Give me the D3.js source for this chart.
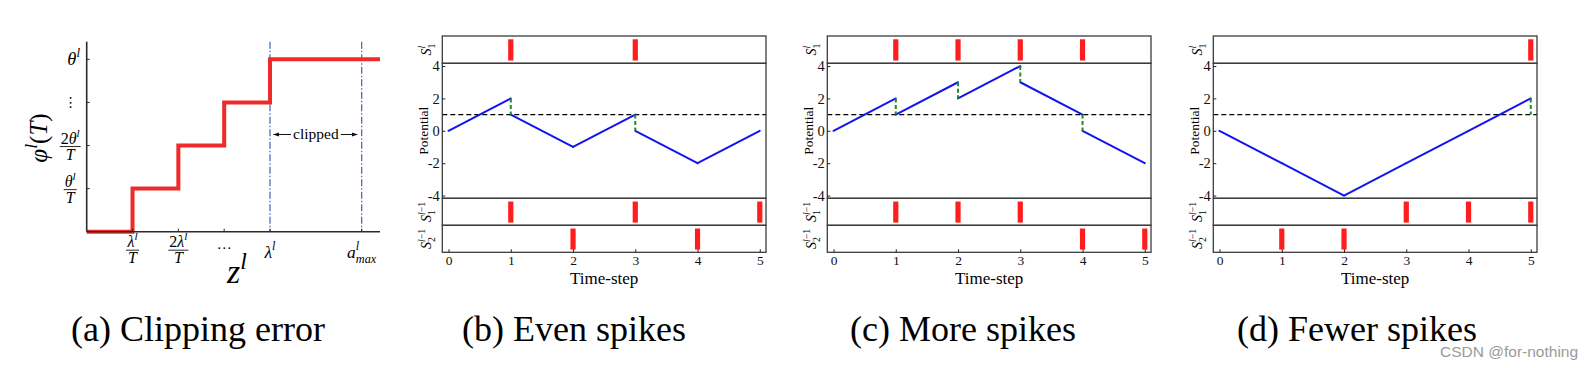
<!DOCTYPE html>
<html><head><meta charset="utf-8">
<script src="https://cdn.jsdelivr.net/npm/d3@7"></script>
<style>
html,body{margin:0;padding:0;background:#fff;}
svg{display:block;}
svg text{font-family:"Liberation Serif","Times New Roman",Times,serif;}
svg text.wm{font-family:"Liberation Sans",Arial,sans-serif;}
svg text.sym{font-family:"DejaVu Sans",sans-serif;}
</style>
</head><body>
<svg id="chart" width="1596" height="368"></svg>
<script>
// ================= DATA =================
// Panel (a): clipping error staircase (z in units of λ/T, level in units of θ/T)
const clipStepZ     = [0, 1, 2, 3, 4, 6.4];
const clipStepLevel = [0, 1, 2, 3, 4, 4];
const clipXTickValues = [1, 2, 3, 4, 6];
const clipXTickLabels = ["λ^l/T", "2λ^l/T", "···", "λ^l", "a^l_{max}"];
const clipYTickValues = [1, 2, 3, 4];
const clipYTickLabels = ["θ^l/T", "2θ^l/T", "⋮", "θ^l"];
const clipMarkers = [4, 6];            // λ^l and a^l_max
const clipNote = "clipped";

// Panels (b)-(d): membrane potential simulation
const timeSteps = [0, 1, 2, 3, 4, 5];
const potentialTicks = [4, 2, 0, -2, -4];
const threshold = 1;

const evenMembrane   = [0, 2, -1, 1, -2, 0];   // potential at each step (before reset)
const evenOutSpikes  = [1, 3];
const evenIn1Spikes  = [1, 3, 5];
const evenIn2Spikes  = [2, 4];

const moreMembrane   = [0, 2, 3, 4, 1, -2];
const moreOutSpikes  = [1, 2, 3, 4];
const moreIn1Spikes  = [1, 2, 3];
const moreIn2Spikes  = [4, 5];

const fewerMembrane  = [0, -2, -4, -2, 0, 2];
const fewerOutSpikes = [5];
const fewerIn1Spikes = [3, 4, 5];
const fewerIn2Spikes = [1, 2];

const rowLabels = ["S_1^l", "Potential", "S_1^{l−1}", "S_2^{l−1}"];
const xAxisTitle = "Time-step";
const captions = ["(a) Clipping error", "(b) Even spikes", "(c) More spikes", "(d) Fewer spikes"];
const watermark = "CSDN @for-nothing";

// ================= HELPERS =================
const svg = d3.select("#chart");
svg.append("rect").attr("width", 1596).attr("height", 368).attr("fill", "#fff");

const isLetter = ch => /[A-Za-zα-ωθλφ]/.test(ch);

function renderMath(text, str, fs) {
  let i = 0; const atoms = [];
  const readGroup = () => {
    if (str[i] === "{") { const j = str.indexOf("}", i); const g = str.slice(i + 1, j); i = j + 1; return g; }
    return str[i++];
  };
  while (i < str.length) {
    const c = str[i];
    if (c === "^") { i++; atoms[atoms.length - 1].sup = readGroup(); }
    else if (c === "_") { i++; atoms[atoms.length - 1].sub = readGroup(); }
    else { atoms.push({ b: c }); i++; }
  }
  let shift = 0;
  const sfs = fs * 0.7;
  const writeScript = (s, off, dx) => {
    const ts = text.append("tspan").attr("font-size", sfs).attr("dy", off - shift);
    if (dx) ts.attr("dx", dx);
    shift = off;
    [...s].forEach(ch => ts.append("tspan").attr("font-style", isLetter(ch) ? "italic" : "normal").text(ch));
    return ts;
  };
  atoms.forEach(a => {
    const t = text.append("tspan").attr("font-style", isLetter(a.b) ? "italic" : "normal")
      .attr("font-size", fs).text(a.b);
    if (shift !== 0) { t.attr("dy", -shift); shift = 0; }
    const subOff = fs * 0.28, supOff = -fs * 0.42;
    if (a.sub && a.sup) {
      const first = a.sub.length <= a.sup.length ? ["sub", a.sub] : ["sup", a.sup];
      const second = first[0] === "sub" ? ["sup", a.sup] : ["sub", a.sub];
      const t1 = writeScript(first[1], first[0] === "sub" ? subOff : supOff);
      const w = t1.node().getComputedTextLength();
      writeScript(second[1], second[0] === "sub" ? subOff : supOff, -w);
    } else if (a.sup) writeScript(a.sup, supOff);
    else if (a.sub) writeScript(a.sub, subOff);
  });
  return text;
}

function fraction(g, cx, cy, num, den, fs) {
  const tn = g.append("text").attr("x", cx).attr("y", cy - 3).attr("text-anchor", "middle");
  renderMath(tn, num, fs);
  const td = g.append("text").attr("x", cx).attr("y", cy + fs * 0.72 + 1.5).attr("text-anchor", "middle");
  renderMath(td, den, fs);
  const w = Math.max(tn.node().getBBox().width, td.node().getBBox().width);
  g.append("line").attr("x1", cx - w / 2 - 1).attr("x2", cx + w / 2 + 1)
    .attr("y1", cy).attr("y2", cy).attr("stroke", "#111").attr("stroke-width", 0.9);
}

function mathLabel(g, x, y, str, fs, anchor) {
  if (str.includes("/")) {
    const [n, d] = str.split("/");
    fraction(g, x, y, n, d, fs);
  } else {
    const t = g.append("text").attr("x", x).attr("y", y).attr("text-anchor", anchor || "middle");
    renderMath(t, str, fs);
  }
}

// arrow marker
const defs = svg.append("defs");
defs.append("marker").attr("id", "arrow").attr("viewBox", "0 0 10 10").attr("refX", 9).attr("refY", 5)
  .attr("markerWidth", 6).attr("markerHeight", 6).attr("orient", "auto-start-reverse")
  .append("path").attr("d", "M0,1.5 L10,5 L0,8.5 z").attr("fill", "#111");

// ================= PANEL (a) =================
{
  const g = svg.append("g");
  const xA = d3.scaleLinear().domain([0, 6.4]).range([86.7, 380]);
  const yA = d3.scaleLinear().domain([0, 4.41]).range([231.7, 41.7]);

  // clipping markers
  g.selectAll("line.clip").data(clipMarkers).join("line")
    .attr("x1", d => xA(d)).attr("x2", d => xA(d))
    .attr("y1", yA(4.41)).attr("y2", yA(0))
    .attr("stroke", "#4a70b8").attr("stroke-width", 1.3).attr("stroke-dasharray", "7,2,1.5,2");

  // staircase
  const pts = clipStepZ.map((z, i) => [z, clipStepLevel[i]]);
  g.append("path").datum(pts)
    .attr("d", d3.line().x(d => xA(d[0])).y(d => yA(d[1])).curve(d3.curveStepAfter))
    .attr("fill", "none").attr("stroke", "#f02a2a").attr("stroke-width", 4);

  // axes
  g.append("line").attr("x1", xA(0)).attr("x2", xA(0)).attr("y1", yA(4.41)).attr("y2", yA(0))
    .attr("stroke", "#2a2a2a").attr("stroke-width", 1.6);
  g.append("line").attr("x1", xA(0)).attr("x2", xA(6.4)).attr("y1", yA(0)).attr("y2", yA(0))
    .attr("stroke", "#2a2a2a").attr("stroke-width", 1.6);
  g.selectAll("line.yt").data(clipYTickValues).join("line")
    .attr("x1", xA(0)).attr("x2", xA(0) + 3).attr("y1", d => yA(d)).attr("y2", d => yA(d))
    .attr("stroke", "#2a2a2a").attr("stroke-width", 1);
  g.selectAll("line.xt").data(clipXTickValues).join("line")
    .attr("x1", d => xA(d)).attr("x2", d => xA(d)).attr("y1", yA(0)).attr("y2", yA(0) - 3)
    .attr("stroke", "#2a2a2a").attr("stroke-width", 1);

  // y tick labels
  clipYTickValues.forEach((v, i) => {
    const lab = clipYTickLabels[i];
    if (lab === "⋮") {
      g.append("text").attr("class", "sym").attr("x", xA(0) - 16).attr("y", yA(v) + 5).attr("text-anchor", "middle")
        .attr("font-size", 14).text(lab);
    } else if (lab.includes("/")) {
      mathLabel(g, xA(0) - 16.5, yA(v) + 1, lab, 16);
    } else {
      mathLabel(g, xA(0) - 13, yA(v) + 5.5, lab, 18.5);
    }
  });
  // x tick labels
  clipXTickValues.forEach((v, i) => {
    const lab = clipXTickLabels[i];
    if (lab.includes("/")) mathLabel(g, xA(v), yA(0) + 18.5, lab, 16);
    else if (lab === "···") g.append("text").attr("x", xA(v)).attr("y", yA(0) + 21).attr("text-anchor", "middle")
      .attr("font-size", 15).text(lab);
    else mathLabel(g, xA(v), yA(0) + 26, lab, 17.5);
  });

  // axis titles
  const yt = g.append("text").attr("text-anchor", "middle")
    .attr("transform", `translate(47,138) rotate(-90)`);
  renderMath(yt, "φ^l(T)", 25);
  const xt = g.append("text").attr("x", 237).attr("y", 283).attr("text-anchor", "middle");
  renderMath(xt, "z^l", 34);

  // clipped annotation
  const ct = g.append("text").attr("x", xA(5)).attr("y", 139).attr("text-anchor", "middle")
    .attr("font-size", 15.5).text(clipNote);
  const bb = ct.node().getBBox();
  g.append("line").attr("x1", bb.x - 2).attr("x2", xA(clipMarkers[0]) + 3.5).attr("y1", 134.5).attr("y2", 134.5)
    .attr("stroke", "#111").attr("stroke-width", 1).attr("marker-end", "url(#arrow)");
  g.append("line").attr("x1", bb.x + bb.width + 2).attr("x2", xA(clipMarkers[1]) - 4.5).attr("y1", 134.5).attr("y2", 134.5)
    .attr("stroke", "#111").attr("stroke-width", 1).attr("marker-end", "url(#arrow)");
}

// ================= PANELS (b)-(d) =================
const panelDefs = [
  { left: 442.3, membrane: evenMembrane,  out: evenOutSpikes,  in1: evenIn1Spikes,  in2: evenIn2Spikes },
  { left: 827.3, membrane: moreMembrane,  out: moreOutSpikes,  in1: moreIn1Spikes,  in2: moreIn2Spikes },
  { left: 1213.3, membrane: fewerMembrane, out: fewerOutSpikes, in1: fewerIn1Spikes, in2: fewerIn2Spikes }
];
const rowEdges = [36, 63.3, 198.3, 225.3, 252.3];
const panelW = 323.7;

panelDefs.forEach(p => {
  const g = svg.append("g");
  const x = d3.scaleLinear().domain([-0.1, 5.1]).range([p.left, p.left + panelW]);
  const yP = d3.scaleLinear().domain([-4.17, 4.17]).range([rowEdges[2], rowEdges[1]]);
  const rowScale = (r) => d3.scaleLinear().domain([0, 1]).range([rowEdges[r + 1], rowEdges[r]]);
  const spikeRows = [[0, p.out], [2, p.in1], [3, p.in2]];

  // spike bars
  spikeRows.forEach(([r, spikes]) => {
    const ys = rowScale(r);
    g.selectAll(null).data(spikes).join("rect")
      .attr("x", d => x(d) - 2.6).attr("width", 5.2)
      .attr("y", ys(0.88)).attr("height", ys(0.1) - ys(0.88))
      .attr("fill", "#ff1e1e");
  });

  // threshold
  g.append("line").attr("x1", x(-0.1)).attr("x2", x(5.1)).attr("y1", yP(threshold)).attr("y2", yP(threshold))
    .attr("stroke", "#000").attr("stroke-width", 1.4).attr("stroke-dasharray", "5,3");

  // membrane segments
  const fired = t => p.out.includes(t);
  const post = p.membrane.map((v, t) => fired(t) ? v - threshold : v);
  const segs = d3.range(1, p.membrane.length).map(t => [[t - 1, post[t - 1]], [t, p.membrane[t]]]);
  const line = d3.line().x(d => x(d[0])).y(d => yP(d[1]));
  g.selectAll(null).data(segs).join("path").attr("d", line)
    .attr("fill", "none").attr("stroke", "#1414f0").attr("stroke-width", 2).attr("stroke-linecap", "round");
  // resets
  g.selectAll(null).data(p.out).join("line")
    .attr("x1", d => x(d)).attr("x2", d => x(d))
    .attr("y1", d => yP(p.membrane[d])).attr("y2", d => yP(post[d]))
    .attr("stroke", "#1e8c1e").attr("stroke-width", 2).attr("stroke-dasharray", "4,2.5");

  // row frames
  for (let r = 0; r < 4; r++) {
    g.append("rect").attr("x", p.left).attr("y", rowEdges[r]).attr("width", panelW)
      .attr("height", rowEdges[r + 1] - rowEdges[r]).attr("fill", "none")
      .attr("stroke", "#3c3c3c").attr("stroke-width", 1.3);
  }

  // potential axis
  const ya = g.append("g").attr("transform", `translate(${p.left},0)`)
    .call(d3.axisLeft(yP).tickValues(potentialTicks).tickSize(-3).tickPadding(2.5).tickFormat(d => String(d)));
  ya.select(".domain").remove();
  ya.selectAll("text").attr("font-size", 14.5).attr("fill", "#111");
  ya.selectAll("line").attr("stroke", "#222");

  // time axis
  const xa = g.append("g").attr("transform", `translate(0,${rowEdges[4]})`)
    .call(d3.axisBottom(x).tickValues(timeSteps).tickSize(-3).tickPadding(3).tickFormat(d => String(d)));
  xa.select(".domain").remove();
  xa.selectAll("text").attr("font-size", 13.5).attr("fill", "#111");
  xa.selectAll("line").attr("stroke", "#222");

  g.append("text").attr("x", x(2.5)).attr("y", 284).attr("text-anchor", "middle")
    .attr("font-size", 17).text(xAxisTitle);

  // row labels
  const bx = p.left - 14;
  rowLabels.forEach((lab, r) => {
    const cy = (rowEdges[r] + rowEdges[r + 1]) / 2;
    const t = g.append("text").attr("text-anchor", "middle")
      .attr("transform", `translate(${r === 1 ? bx : bx + 2.5},${cy}) rotate(-90)`);
    if (r === 1) t.attr("font-size", 13.5).text(lab);
    else renderMath(t, lab, 14);
  });
});

// ================= CAPTIONS =================
const captionX = [198, 574, 963, 1357];
svg.selectAll("text.cap").data(captions).join("text").attr("class", "cap")
  .attr("x", (d, i) => captionX[i]).attr("y", 341).attr("text-anchor", "middle")
  .attr("font-size", 36).attr("fill", "#000").text(d => d);

svg.append("text").attr("class", "wm").attr("x", 1440).attr("y", 357)
  .attr("font-size", 15.5).attr("fill", "#9a9a9a")
  .text(watermark);
</script>
</body></html>
